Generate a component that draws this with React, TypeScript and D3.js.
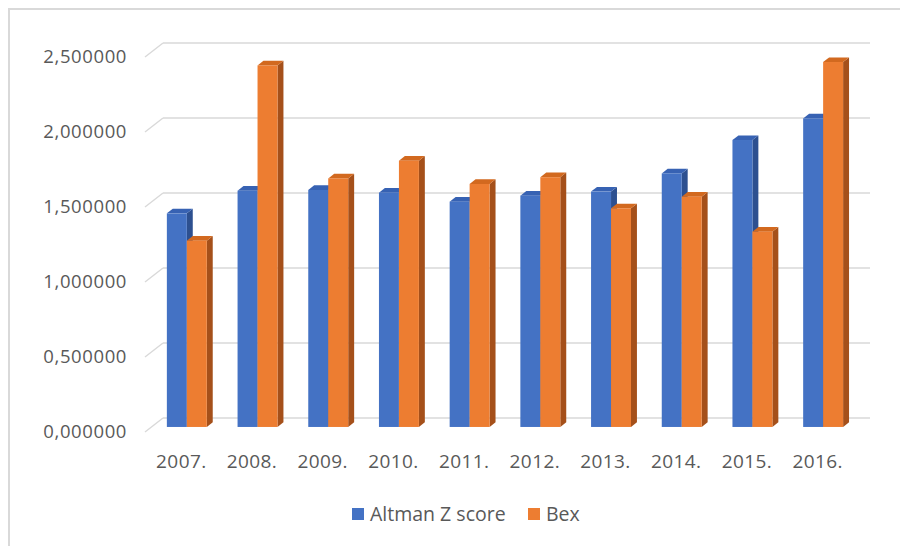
import * as d3 from 'd3';

const years = ['2007.', '2008.', '2009.', '2010.', '2011.', '2012.', '2013.', '2014.', '2015.', '2016.'];
const altman = [1.424, 1.575, 1.58, 1.562, 1.502, 1.542, 1.569, 1.69, 1.913, 2.057];
const bex = [1.242, 2.41, 1.657, 1.775, 1.62, 1.665, 1.458, 1.535, 1.302, 2.433];
const yTicks = [0, 0.5, 1, 1.5, 2, 2.5];
const seriesNames = ['Altman Z score', 'Bex'];

const W = 900;
const H = 546;
// front plane of the plot + depth vector of the 3D box
const x0 = 145;
const x1 = 852;
const floorY = 432;
const topY = 57;
const depth = { dx: 18, dy: -14 };
// bars sit in the middle slice of the depth
const fa = 0.36;
const fb = 0.69;

const colors = [
  { front: '#4472C4', top: '#3762B3', side: '#2D5090' },
  { front: '#ED7D31', top: '#D2691F', side: '#A5501A' },
];

const font = "'Open Sans', 'Noto Sans', sans-serif";
const textColor = '#595959';
const gridColor = '#D9D9D9';

export default function App() {
  const x = d3.scaleBand<string>().domain(years).range([x0, x1]);
  const inner = d3.scaleBand<string>().domain(seriesNames).range([0, x.bandwidth()]).paddingOuter(0.77);
  const y = d3.scaleLinear().domain([0, 2.5]).range([floorY, topY]);
  const fmt = (v: number) => d3.format('.6f')(v).replace('.', ',');

  const bars: JSX.Element[] = [];
  years.forEach((yr, i) => {
    [altman[i], bex[i]].forEach((v, s) => {
      const c = colors[s];
      const left = (x(yr) as number) + (inner(seriesNames[s]) as number) + fa * depth.dx;
      const right = left + inner.bandwidth();
      const bottom = y(0) + fa * depth.dy;
      const top = y(v) + fa * depth.dy;
      const ddx = (fb - fa) * depth.dx;
      const ddy = (fb - fa) * depth.dy;
      const side = d3.line()([[right, top], [right + ddx, top + ddy], [right + ddx, bottom + ddy], [right, bottom]]) + 'Z';
      const cap = d3.line()([[left, top], [left + ddx, top + ddy], [right + ddx, top + ddy], [right, top]]) + 'Z';
      bars.push(
        <g key={`${yr}-${s}`}>
          <path d={side} fill={c.side} />
          <path d={cap} fill={c.top} />
          <rect x={left} y={top} width={right - left} height={bottom - top} fill={c.front} />
        </g>,
      );
    });
  });

  return (
    <svg
      width={W}
      height={H}
      viewBox={`0 0 ${W} ${H}`}
      style={{ position: 'absolute', left: 0, top: 0, background: '#fff' }}
      fontFamily={font}
    >
      <rect x={9} y={9} width={W + 10} height={H + 10} fill="none" stroke={gridColor} strokeWidth={2} />

      {/* back wall gridlines with the side-wall diagonals */}
      {yTicks.map(t => (
        <g key={t} stroke={gridColor} strokeWidth={1.4} fill="none">
          <line x1={x0} y1={y(t)} x2={x0 + depth.dx} y2={y(t) + depth.dy} />
          <line x1={x0 + depth.dx} y1={y(t) + depth.dy} x2={x1 + depth.dx} y2={y(t) + depth.dy} />
        </g>
      ))}

      {yTicks.map(t => (
        <text
          key={`l${t}`}
          x={127}
          y={y(t)}
          dy="0.35em"
          textAnchor="end"
          fontSize={18.5}
          letterSpacing={0.6}
          fill={textColor}
        >
          {fmt(t)}
        </text>
      ))}

      {bars}

      {years.map(yr => (
        <text
          key={`x${yr}`}
          x={(x(yr) as number) + x.bandwidth() / 2 + 1}
          y={461}
          dy="0.35em"
          textAnchor="middle"
          fontSize={19}
          letterSpacing={0.4}
          fill={textColor}
        >
          {yr}
        </text>
      ))}

      {/* legend */}
      {seriesNames.map((n, s) => {
        const lx = [352, 528][s];
        return (
          <g key={n}>
            <rect x={lx} y={508} width={12} height={12} fill={colors[s].front} />
            <text x={lx + 18} y={514} dy="0.35em" fontSize={19.5} fill={textColor}>
              {n}
            </text>
          </g>
        );
      })}
    </svg>
  );
}
